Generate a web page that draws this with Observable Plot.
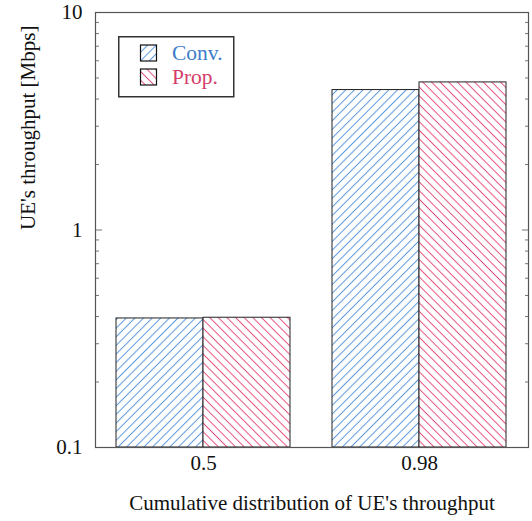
<!DOCTYPE html>
<html><head><meta charset="utf-8">
<script src="https://cdn.jsdelivr.net/npm/d3@7"></script>
<script src="https://cdn.jsdelivr.net/npm/@observablehq/plot@0.6"></script>
<style>
body{margin:0;background:#fff}
#wrap{position:relative;width:532px;height:521px}
#legend{position:absolute;left:118px;top:36px}
svg text{font-family:'Liberation Serif','Times New Roman',serif}
</style>
</head><body><div id="wrap"></div>
<script>
const groups = ["0.5", "0.98"];
const series = ["Conv.", "Prop."];
const convValues = [0.392, 4.40];
const propValues = [0.395, 4.77];
const yMajorTicks = [0.1, 1, 10];
const yMinorTicks = [0.2, 0.3, 0.4, 0.5, 0.6, 0.7, 0.8, 0.9, 2, 3, 4, 5, 6, 7, 8, 9];
const xLabel = "Cumulative distribution of UE's throughput";
const yLabel = "UE's throughput [Mbps]";
const yDomain = [0.1, 10];

const seriesColors = {"Conv.": "#3d7cc9", "Prop.": "#d63c68"};
const lineColors = {"Conv.": "#5c98dc", "Prop.": "#e4527e"};
const patIds = {"Conv.": "convPat", "Prop.": "propPat"};

const data = [];
groups.forEach((g, i) => {
  data.push({group: g, series: "Conv.", value: convValues[i]});
  data.push({group: g, series: "Prop.", value: propValues[i]});
});

const font = "'Liberation Serif', 'Times New Roman', serif";

function make(bw) {
  return Plot.plot({
    width: 532, height: 521,
    marginLeft: 95, marginRight: 4, marginTop: 12, marginBottom: 74,
    style: {fontFamily: font, fontSize: "21px", background: "white", color: "#111"},
    x: {type: "band", domain: groups, paddingInner: 0.194, paddingOuter: 0.097, axis: null},
    y: {type: "log", domain: yDomain, axis: null},
    marks: [
      Plot.barY(data.filter(d => d.series === "Conv."), {
        x: "group", y1: yDomain[0], y2: "value", fill: "url(#convPat)",
        stroke: "#222", strokeWidth: 1, insetRight: bw / 2
      }),
      Plot.barY(data.filter(d => d.series === "Prop."), {
        x: "group", y1: yDomain[0], y2: "value", fill: "url(#propPat)",
        stroke: "#222", strokeWidth: 1, insetLeft: bw / 2
      }),
      Plot.axisY({ticks: yMinorTicks, tickSize: -4, stroke: "#777", text: null, label: null}),
      Plot.axisY({ticks: yMinorTicks, tickSize: -4, anchor: "right", stroke: "#777", text: null, label: null}),
      Plot.axisY({ticks: yMajorTicks, tickSize: -7, stroke: "#777", text: null, label: null}),
      Plot.axisY({ticks: yMajorTicks, tickSize: -7, anchor: "right", stroke: "#777", text: null, label: null}),
      Plot.axisY({ticks: yMajorTicks, tickSize: 0, tickPadding: 13, fontSize: 21, fill: "#111",
        tickFormat: d => String(d), label: null}),
      Plot.axisX({tickSize: 0, tickPadding: 8, fontSize: 21, fill: "#111", label: null}),
      Plot.frame({stroke: "#555", strokeWidth: 1.2}),
      Plot.text([xLabel], {frameAnchor: "bottom", dy: 56, lineAnchor: "middle", fontSize: 21, fill: "#111", text: d => d}),
      Plot.text([yLabel], {frameAnchor: "left", dx: -67, rotate: -90, lineAnchor: "middle", fontSize: 21, fill: "#111", text: d => d})
    ]
  });
}

function addPatterns(svgSel, prefix) {
  const defs = svgSel.insert("defs", ":first-child");
  const w = 6.1;
  // Conv: "/" lines
  const p1 = defs.append("pattern").attr("id", prefix + "convPat")
    .attr("patternUnits", "userSpaceOnUse").attr("width", w).attr("height", 10)
    .attr("patternTransform", "rotate(45)");
  p1.append("rect").attr("width", w).attr("height", 10).attr("fill", "white");
  p1.append("line").attr("x1", w / 2).attr("x2", w / 2).attr("y1", 0).attr("y2", 10)
    .attr("stroke", lineColors["Conv."]).attr("stroke-width", 1);
  // Prop: "\" lines
  const p2 = defs.append("pattern").attr("id", prefix + "propPat")
    .attr("patternUnits", "userSpaceOnUse").attr("width", w).attr("height", 10)
    .attr("patternTransform", "rotate(-45)");
  p2.append("rect").attr("width", w).attr("height", 10).attr("fill", "white");
  p2.append("line").attr("x1", w / 2).attr("x2", w / 2).attr("y1", 0).attr("y2", 10)
    .attr("stroke", lineColors["Prop."]).attr("stroke-width", 1);
}

const probe = make(0);
const bw = probe.scale("x").bandwidth;
const chart = make(bw);
addPatterns(d3.select(chart), "");
document.getElementById("wrap").appendChild(chart);

// Legend (inside the plot area)
const leg = d3.select("#wrap").append("svg").attr("id", "legend")
  .attr("width", 117).attr("height", 62);
addPatterns(leg, "leg-");
leg.append("rect").attr("x", 0.75).attr("y", 0.75).attr("width", 115).attr("height", 60)
  .attr("fill", "white").attr("stroke", "#333").attr("stroke-width", 1.5);
series.forEach((s, i) => {
  const yy = 9 + i * 24;
  leg.append("rect").attr("x", 22.5).attr("y", yy).attr("width", 16).attr("height", 16)
    .attr("fill", `url(#leg-${patIds[s]})`).attr("stroke", "#111").attr("stroke-width", 1.2);
  leg.append("text").attr("x", 54).attr("y", yy + 14.5)
    .attr("font-family", font).attr("font-size", 21.5).attr("fill", seriesColors[s]).text(s);
});
</script>
</body></html>
